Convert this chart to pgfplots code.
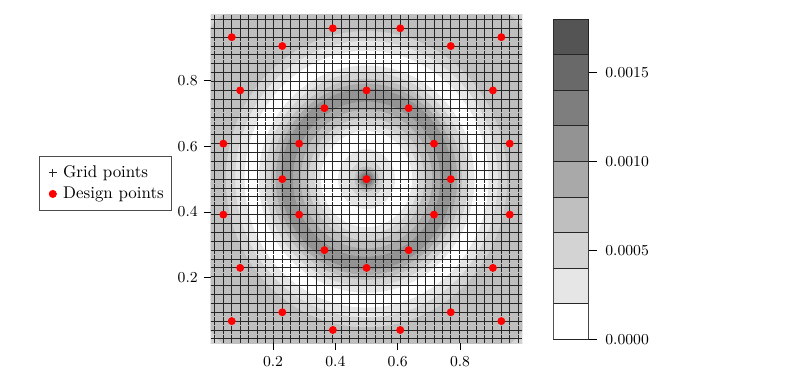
\documentclass[border=0pt]{standalone}
\usepackage{pgfplots}
\usepackage{pgfplotstable}
\pgfplotsset{compat=1.18}
\definecolor{c0}{HTML}{FFFFFF}
\definecolor{c1}{HTML}{E6E6E6}
\definecolor{c2}{HTML}{D3D3D3}
\definecolor{c3}{HTML}{BFBFBF}
\definecolor{c4}{HTML}{A9A9A9}
\definecolor{c5}{HTML}{939393}
\definecolor{c6}{HTML}{7E7E7E}
\definecolor{c7}{HTML}{696969}
\definecolor{c8}{HTML}{545454}
\pgfdeclareplotmark{ellipse}{%
  \pgfpathellipse{\pgfpointorigin}{\pgfqpoint{\pgfplotmarksize}{0pt}}{\pgfqpoint{0pt}{1.0533\pgfplotmarksize}}%
  \pgfusepathqfillstroke}

% radial bands of the filled contour: outer radius (data units) and level index
\pgfplotstableread{
x y r lev
0.5 0.5 0.75 2
0.5 0.5 0.68 3
0.5 0.5 0.45 2
0.5 0.5 0.42 1
0.5 0.5 0.39 0
0.5 0.5 0.345 1
0.5 0.5 0.325 2
0.5 0.5 0.305 3
0.5 0.5 0.29 4
0.5 0.5 0.275 5
0.5 0.5 0.235 4
0.5 0.5 0.21 3
0.5 0.5 0.185 2
0.5 0.5 0.165 1
0.5 0.5 0.145 0
0.5 0.5 0.09 1
0.5 0.5 0.055 2
0.5 0.5 0.038 3
0.5 0.5 0.03 4
0.5 0.5 0.024 5
0.5 0.5 0.018 6
0.5 0.5 0.012 7
0.5 0.5 0.006 8
}\rings

\pgfplotstableread{
k g
1 0.01351
2 0.04054
3 0.06757
4 0.09459
5 0.12162
6 0.14865
7 0.17568
8 0.20270
9 0.22973
10 0.25676
11 0.28378
12 0.31081
13 0.33784
14 0.36486
15 0.39189
16 0.41892
17 0.44595
18 0.47297
19 0.5
20 0.52703
21 0.55405
22 0.58108
23 0.60811
24 0.63514
25 0.66216
26 0.68919
27 0.71622
28 0.74324
29 0.77027
30 0.79730
31 0.82432
32 0.85135
33 0.87838
34 0.90541
35 0.93243
36 0.95946
37 0.98649
}\gridx

\pgfplotstableread{
x y
0.5 0.5
0.5 0.77027
0.36486 0.71622
0.63514 0.71622
0.28378 0.60811
0.71622 0.60811
0.22973 0.5
0.77027 0.5
0.28378 0.39189
0.71622 0.39189
0.36486 0.28378
0.63514 0.28378
0.5 0.22973
0.06757 0.93243
0.22973 0.90541
0.39189 0.95946
0.60811 0.95946
0.77027 0.90541
0.93243 0.93243
0.09459 0.77027
0.90541 0.77027
0.04054 0.60811
0.95946 0.60811
0.04054 0.39189
0.95946 0.39189
0.09459 0.22973
0.90541 0.22973
0.06757 0.06757
0.22973 0.09459
0.39189 0.04054
0.60811 0.04054
0.77027 0.09459
0.93243 0.06757
}\design

\begin{document}
\begin{tikzpicture}
\useasboundingbox (0,0) rectangle (472.94bp,220.59bp);
% filled contour (background)
\begin{axis}[at={(123.94bp,18.65bp)}, anchor=south west, scale only axis,
  width=183.35bp, height=193.12bp, xmin=0, xmax=1, ymin=0, ymax=1,
  hide axis, clip marker paths=true]
\addplot[scatter, only marks, mark=ellipse, point meta=explicit symbolic,
  scatter/classes={0={draw=c0,fill=c0},1={draw=c1,fill=c1},2={draw=c2,fill=c2},
    3={draw=c3,fill=c3},4={draw=c4,fill=c4},5={draw=c5,fill=c5},
    6={draw=c6,fill=c6},7={draw=c7,fill=c7},8={draw=c8,fill=c8}},
  visualization depends on={\thisrow{r}*183.35 \as \rr},
  scatter/@pre marker code/.append style={/tikz/mark size=\rr bp}]
  table[x=x, y=y, meta=lev] {\rings};
\end{axis}
% grid points, design points, ticks, legend
\begin{axis}[at={(123.94bp,18.65bp)}, anchor=south west, scale only axis,
  width=183.35bp, height=193.12bp, xmin=0, xmax=1, ymin=0, ymax=1,
  axis line style={draw=none}, tick align=outside,
  xtick pos=bottom, ytick pos=left,
  xtick={0.2,0.4,0.6,0.8}, ytick={0.2,0.4,0.6,0.8},
  major tick length=4.1bp, tick style={black, line width=0.5bp},
  ticklabel style={font=\small},
  legend cell align=left,
  legend style={at={(-0.551,0.5714)}, anchor=north west, draw=black!70,
    line width=0.5bp, font=\normalsize, inner ysep=3.6bp, inner xsep=2.5bp,
    legend image code/.code={\draw[#1] plot coordinates {(5.4bp,0bp)};\path[draw=none,fill=none] (0bp,0bp) -- (9.5bp,0bp);}}]
\addplot[only marks, mark=+, mark size=2.5bp, mark options={line width=0.5bp, draw=black!85}, black!85]
  table[x=g, y expr=0.01351] {\gridx};
\addlegendentry{Grid points}
\pgfplotsinvokeforeach{0.04054,0.06757,0.09459,0.12162,0.14865,0.17568,0.20270,0.22973,0.25676,0.28378,0.31081,0.33784,0.36486,0.39189,0.41892,0.44595,0.47297,0.5,0.52703,0.55405,0.58108,0.60811,0.63514,0.66216,0.68919,0.71622,0.74324,0.77027,0.79730,0.82432,0.85135,0.87838,0.90541,0.93243,0.95946,0.98649}{
\addplot[only marks, mark=+, mark size=2.5bp, mark options={line width=0.5bp, draw=black!85}, black!85, forget plot]
  table[x=g, y expr=#1] {\gridx};
}
\addplot[only marks, mark=*, mark size=2.1bp, red, mark options={draw=red, fill=red}]
  table[x=x, y=y] {\design};
\addlegendentry{Design points}
\end{axis}
% colour key
\begin{axis}[at={(325.47bp,21.0bp)}, anchor=south west, scale only axis,
  width=20.59bp, height=188.41bp, xmin=0, xmax=1, ymin=0, ymax=0.0018,
  no markers, xtick=\empty, ytick={0,0.0005,0.001,0.0015},
  yticklabels={0.0000,0.0005,0.0010,0.0015}, scaled y ticks=false,
  ytick pos=right, yticklabel pos=right, tick align=outside,
  major tick length=5bp, tick style={black, line width=0.5bp},
  axis line style={black, line width=0.5bp},
  ticklabel style={font=\small}, yticklabel style={xshift=1.5bp}]
\addplot[fill=c0, draw=black!85, line width=0.5bp] coordinates {(0,0) (1,0) (1,0.0002) (0,0.0002) (0,0)};
\addplot[fill=c1, draw=black!85, line width=0.5bp] coordinates {(0,0.0002) (1,0.0002) (1,0.0004) (0,0.0004) (0,0.0002)};
\addplot[fill=c2, draw=black!85, line width=0.5bp] coordinates {(0,0.0004) (1,0.0004) (1,0.0006) (0,0.0006) (0,0.0004)};
\addplot[fill=c3, draw=black!85, line width=0.5bp] coordinates {(0,0.0006) (1,0.0006) (1,0.0008) (0,0.0008) (0,0.0006)};
\addplot[fill=c4, draw=black!85, line width=0.5bp] coordinates {(0,0.0008) (1,0.0008) (1,0.0010) (0,0.0010) (0,0.0008)};
\addplot[fill=c5, draw=black!85, line width=0.5bp] coordinates {(0,0.0010) (1,0.0010) (1,0.0012) (0,0.0012) (0,0.0010)};
\addplot[fill=c6, draw=black!85, line width=0.5bp] coordinates {(0,0.0012) (1,0.0012) (1,0.0014) (0,0.0014) (0,0.0012)};
\addplot[fill=c7, draw=black!85, line width=0.5bp] coordinates {(0,0.0014) (1,0.0014) (1,0.0016) (0,0.0016) (0,0.0014)};
\addplot[fill=c8, draw=black!85, line width=0.5bp] coordinates {(0,0.0016) (1,0.0016) (1,0.0018) (0,0.0018) (0,0.0016)};
\end{axis}
\end{tikzpicture}
\end{document}
